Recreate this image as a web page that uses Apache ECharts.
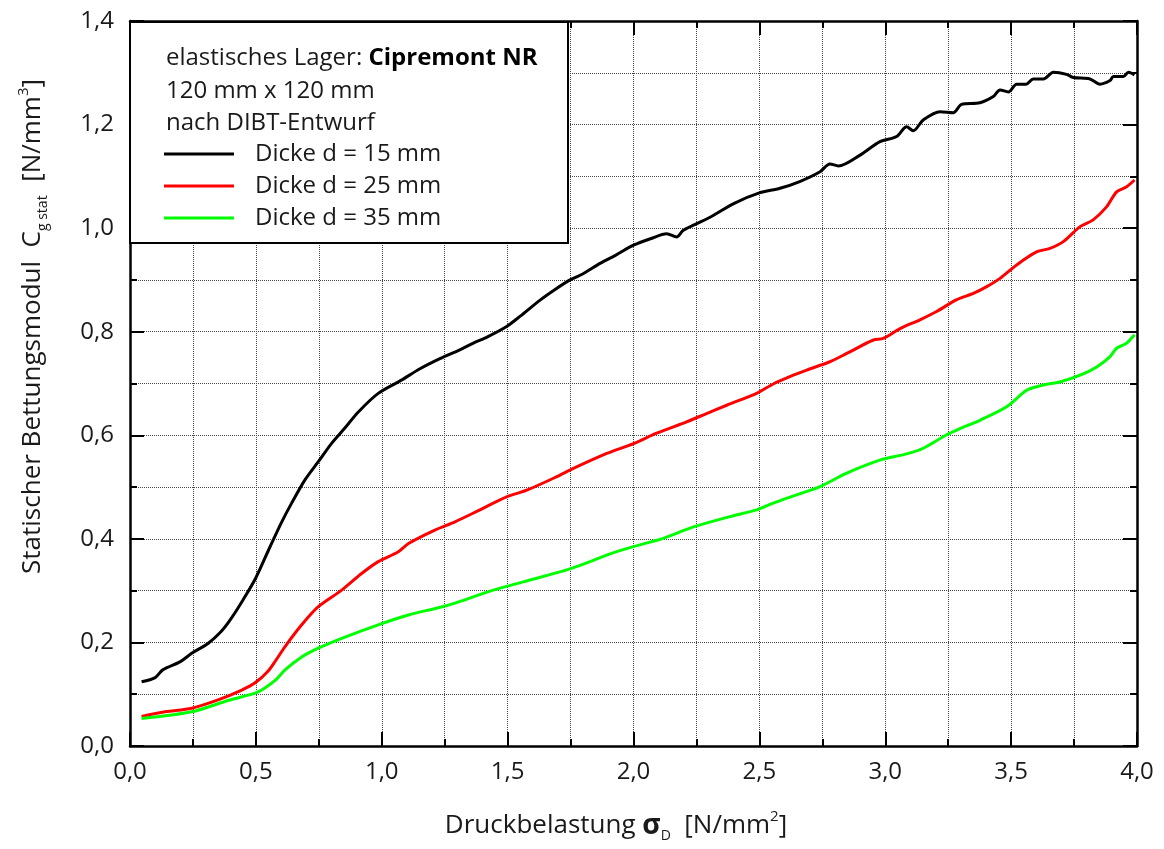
<!DOCTYPE html>
<html>
<head>
<meta charset="utf-8">
<script src="https://cdn.jsdelivr.net/npm/echarts@6/dist/echarts.min.js"></script>
<style>
html,body{margin:0;padding:0;background:#fff;}
#chart{width:1164px;height:849px;}
</style>
</head>
<body>
<div id="chart"></div>
<script>
// ---- data ----
const xTicks = [0, 0.5, 1.0, 1.5, 2.0, 2.5, 3.0, 3.5, 4.0];
const yTicks = [0, 0.2, 0.4, 0.6, 0.8, 1.0, 1.2, 1.4];
const seriesNames = ['Dicke d = 15 mm', 'Dicke d = 25 mm', 'Dicke d = 35 mm'];

const d15X = [0.046,0.10,0.13,0.20,0.245,0.31,0.36,0.40,0.45,0.50,0.55,0.60,0.642,0.695,0.748,0.80,0.85,0.907,0.986,1.08,1.15,1.231,1.31,1.364,1.42,1.496,1.55,1.629,1.69,1.748,1.80,1.867,1.93,2.0,2.07,2.132,2.171,2.198,2.30,2.40,2.50,2.582,2.66,2.741,2.78,2.814,2.90,2.979,3.045,3.085,3.111,3.151,3.218,3.27,3.303,3.376,3.429,3.456,3.489,3.522,3.56,3.588,3.628,3.668,3.72,3.747,3.813,3.853,3.893,3.906,3.946,3.966,3.99];
const d15Y = [0.124,0.132,0.147,0.163,0.179,0.198,0.22,0.245,0.283,0.325,0.378,0.43,0.469,0.514,0.549,0.584,0.612,0.645,0.681,0.707,0.728,0.748,0.765,0.778,0.79,0.81,0.83,0.861,0.882,0.9,0.912,0.932,0.948,0.967,0.98,0.989,0.983,0.996,1.02,1.048,1.068,1.077,1.09,1.109,1.124,1.12,1.141,1.167,1.177,1.196,1.188,1.209,1.225,1.223,1.239,1.242,1.254,1.267,1.263,1.278,1.278,1.288,1.288,1.301,1.297,1.291,1.288,1.278,1.285,1.293,1.293,1.301,1.296];

const d25X = [0.046,0.139,0.245,0.35,0.444,0.497,0.549,0.58,0.616,0.682,0.748,0.841,0.92,0.986,1.066,1.106,1.211,1.291,1.39,1.496,1.576,1.695,1.761,1.894,2.0,2.092,2.211,2.29,2.37,2.489,2.555,2.635,2.688,2.78,2.847,2.953,2.992,3.059,3.138,3.204,3.284,3.35,3.403,3.456,3.522,3.601,3.654,3.707,3.774,3.826,3.879,3.919,3.959,3.99];
const d25Y = [0.057,0.066,0.073,0.089,0.108,0.122,0.145,0.166,0.192,0.234,0.269,0.301,0.333,0.356,0.375,0.391,0.417,0.433,0.456,0.481,0.494,0.52,0.536,0.565,0.584,0.604,0.626,0.642,0.658,0.681,0.699,0.716,0.726,0.742,0.758,0.784,0.787,0.806,0.823,0.839,0.862,0.874,0.887,0.903,0.929,0.954,0.961,0.974,1.003,1.016,1.041,1.07,1.08,1.093];

const d35X = [0.046,0.245,0.377,0.497,0.53,0.58,0.616,0.682,0.748,0.841,0.986,1.106,1.225,1.291,1.364,1.443,1.562,1.735,1.827,1.907,2.0,2.118,2.238,2.383,2.489,2.555,2.648,2.741,2.847,2.979,3.085,3.151,3.244,3.297,3.376,3.482,3.562,3.628,3.694,3.774,3.84,3.893,3.919,3.959,3.99];
const d35Y = [0.053,0.066,0.086,0.102,0.11,0.128,0.147,0.172,0.189,0.208,0.234,0.253,0.267,0.276,0.288,0.301,0.317,0.34,0.356,0.371,0.385,0.401,0.423,0.443,0.456,0.469,0.485,0.501,0.527,0.552,0.564,0.575,0.601,0.613,0.629,0.655,0.687,0.697,0.703,0.716,0.732,0.752,0.768,0.778,0.794];

const zip = (xs, ys) => xs.map((x, i) => [x, ys[i]]);
const FONT = "'Open Sans', 'Liberation Sans', Arial, sans-serif";
const TXT = '#1a1a1a';
const fmt = v => v.toFixed(1).replace('.', ',');

const axisCommon = (withLabels, withGrid, interval, min, max) => ({
  type: 'value', min: min, max: max, interval: interval,
  axisLine: { show: true, onZero: false, lineStyle: { color: '#000', width: 2.5 } },
  axisTick: { show: true, inside: true, length: 14, lineStyle: { color: '#000', width: 2 } },
  minorTick: { show: true, splitNumber: 2, length: 7, lineStyle: { color: '#000', width: 2 } },
  splitLine: { show: withGrid, lineStyle: { type: 'dotted', color: '#444', width: 1 } },
  minorSplitLine: { show: withGrid, lineStyle: { type: 'dotted', color: '#444', width: 1 } },
  axisLabel: withLabels ? { show: true, formatter: fmt, fontFamily: FONT, fontSize: 24, color: TXT } : { show: false }
});

const chart = echarts.init(document.getElementById('chart'), null, { renderer: 'canvas' });

const xMain = Object.assign(axisCommon(true, true, 0.5, xTicks[0], xTicks[xTicks.length - 1]), {
  position: 'bottom',
  name: '{t|Druckbelastung }{g|σ}{s|D}{t|  [N/mm}{p|2}{t|]}',
  nameLocation: 'middle', nameGap: 63,
  nameTextStyle: {
    padding: [0, 35, 0, 0],
    rich: {
      t: { fontFamily: FONT, fontSize: 26, color: TXT, lineHeight: 34 },
      g: { fontFamily: FONT, fontSize: 28, fontWeight: 'bold', color: TXT, lineHeight: 34 },
      s: { fontFamily: FONT, fontSize: 14, color: TXT, lineHeight: 14, verticalAlign: 'bottom' },
      p: { fontFamily: FONT, fontSize: 15, color: TXT, lineHeight: 15, verticalAlign: 'top' }
    }
  }
});
xMain.axisLabel.margin = 14;

const yMain = Object.assign(axisCommon(true, true, 0.2, yTicks[0], yTicks[yTicks.length - 1]), {
  position: 'left',
  name: '{t|Statischer Bettungsmodul  C}{s|g stat}{t|  [N/mm}{p|3}{t|]}',
  nameLocation: 'middle', nameGap: 80,
  nameTextStyle: {
    padding: [0, 0, 0, 114],
    rich: {
      t: { fontFamily: FONT, fontSize: 26, color: TXT, lineHeight: 34 },
      s: { fontFamily: FONT, fontSize: 14, color: TXT, lineHeight: 14, verticalAlign: 'bottom' },
      p: { fontFamily: FONT, fontSize: 15, color: TXT, lineHeight: 15, verticalAlign: 'top' }
    }
  }
});
yMain.axisLabel.margin = 16;

const xTop = Object.assign(axisCommon(false, false, 0.5, xTicks[0], xTicks[xTicks.length - 1]), { position: 'top' });
const yRight = Object.assign(axisCommon(false, false, 0.2, yTicks[0], yTicks[yTicks.length - 1]), { position: 'right' });

const lineSeries = (name, color, data) => ({
  name: name, type: 'line', xAxisIndex: 0, yAxisIndex: 0,
  data: data, showSymbol: false, symbol: 'none', smooth: 0.3,
  lineStyle: { color: color, width: 3 }, itemStyle: { color: color },
  z: 2, animation: false
});

chart.setOption({
  animation: false,
  backgroundColor: '#fff',
  grid: { left: 130, right: 27, top: 21, bottom: 103, containLabel: false },
  xAxis: [xMain, xTop],
  yAxis: [yMain, yRight],
  legend: {
    show: true, orient: 'vertical', left: 159, top: 137, z: 6,
    icon: 'rect', itemWidth: 70, itemHeight: 3, itemGap: 8,
    data: seriesNames,
    textStyle: { fontFamily: FONT, fontSize: 24, color: TXT, lineHeight: 24, padding: [0, 0, 0, 16] },
    selectedMode: false
  },
  graphic: [
    { type: 'rect', z: 5, shape: { x: 130, y: 22, width: 438, height: 221 },
      style: { fill: '#fff', stroke: '#000', lineWidth: 2 } },
    { type: 'text', z: 6, left: 166, top: 46,
      style: { text: '{a|elastisches Lager: }{b|Cipremont NR}',
        rich: { a: { fontFamily: FONT, fontSize: 24, fill: TXT }, b: { fontFamily: FONT, fontSize: 24, fontWeight: 'bold', fill: '#000' } } } },
    { type: 'text', z: 6, left: 166, top: 79,
      style: { text: '120 mm x 120 mm', fontFamily: FONT, fontSize: 24, fill: TXT } },
    { type: 'text', z: 6, left: 166, top: 111,
      style: { text: 'nach DIBT-Entwurf', fontFamily: FONT, fontSize: 24, fill: TXT } }
  ],
  series: [
    lineSeries(seriesNames[0], '#000000', zip(d15X, d15Y)),
    lineSeries(seriesNames[1], '#ff0000', zip(d25X, d25Y)),
    lineSeries(seriesNames[2], '#00ff00', zip(d35X, d35Y))
  ]
});
</script>
</body>
</html>
